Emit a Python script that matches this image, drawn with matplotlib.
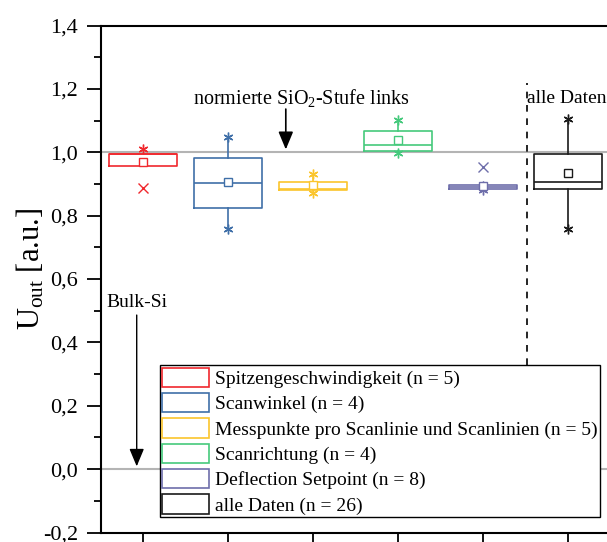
import numpy as np
import matplotlib
matplotlib.use('Agg')
import matplotlib.pyplot as plt
from matplotlib.patches import Patch
from matplotlib.ticker import MultipleLocator, FuncFormatter

plt.rcParams['font.family'] = ['Liberation Serif', 'DejaVu Serif']
plt.rcParams['mathtext.fontset'] = 'custom'
plt.rcParams['mathtext.rm'] = 'Liberation Serif'
plt.rcParams['mathtext.it'] = 'Liberation Serif:italic'

# Daten
labels = ['Spitzengeschwindigkeit (n = 5)', 'Scanwinkel (n = 4)',
          'Messpunkte pro Scanlinie und Scanlinien (n = 5)', 'Scanrichtung (n = 4)',
          'Deflection Setpoint (n = 8)', 'alle Daten (n = 26)']
colors = ['#f0282d', '#3f6fa8', '#fbc52c', '#45c97c', '#6e6eaa', '#1a1a1a']
q1 = [0.957, 0.824, 0.882, 1.005, 0.883, 0.885]
q3 = [0.994, 0.983, 0.907, 1.068, 0.897, 0.994]
med = [0.994, 0.904, 0.885, 1.024, 0.890, 0.905]
mean = [0.968, 0.905, 0.896, 1.038, 0.894, 0.934]
whislo = [0.957, 0.759, 0.870, 0.999, 0.880, 0.759]
whishi = [0.994, 1.048, 0.932, 1.103, 0.897, 1.104]
stars = [[1.009], [0.759, 1.048], [0.870, 0.932], [0.999, 1.103], [0.880, 0.893], [0.759, 1.104]]
crosses = [[0.886], [], [], [], [0.955], []]

W, H = 607, 542
fig = plt.figure(figsize=(W / 100, H / 100), dpi=100)
ax = fig.add_axes([100.5 / W, 9.5 / H, 510 / W, 507 / H])

ax.axhline(1.0, color='#b4b4b4', lw=1.5, zorder=0)
ax.axhline(0.0, color='#b4b4b4', lw=1.5, zorder=0)

pos = np.arange(1, len(labels) + 1)
for i, c in enumerate(colors):
    st = [dict(med=med[i], q1=q1[i], q3=q3[i], whislo=whislo[i], whishi=whishi[i],
               mean=mean[i], fliers=[])]
    ax.bxp(st, positions=[pos[i]], widths=0.8, showmeans=True, showcaps=False,
           boxprops=dict(color=c, lw=1.2), medianprops=dict(color=c, lw=1.2),
           whiskerprops=dict(color=c, lw=1.2),
           meanprops=dict(marker='s', markerfacecolor='white', markeredgecolor=c,
                          markersize=6, markeredgewidth=1.0))
    if stars[i]:
        ax.plot([pos[i]] * len(stars[i]), stars[i], ls='none', marker=(6, 2, 0),
                color=c, markersize=7, markeredgewidth=1.0)
    if crosses[i]:
        ax.plot([pos[i]] * len(crosses[i]), crosses[i], ls='none', marker='x',
                color=c, markersize=7, markeredgewidth=1.0)

# Trennlinie und Beschriftungen
ax.plot([5.518, 5.518], [0.328, 1.22], color='black', ls=(0, (4, 4)), lw=1.2)
ax.text(5.52, 1.17, 'alle Daten', fontsize=14, va='center', ha='left', clip_on=True)
ax.annotate('', xy=(2.68, 1.0), xytext=(2.68, 1.145),
            arrowprops=dict(arrowstyle='-|>,head_length=0.6,head_width=0.25',
                            color='black', lw=1.2, mutation_scale=18))
ax.text(2.86, 1.17, 'normierte SiO$_2$-Stufe links', fontsize=14.5, va='center', ha='center')
ax.annotate('', xy=(0.926, 0.0), xytext=(0.926, 0.495),
            arrowprops=dict(arrowstyle='-|>,head_length=0.6,head_width=0.25',
                            color='black', lw=1.0, mutation_scale=18))
ax.text(0.565, 0.527, 'Bulk-Si', fontsize=14, va='center', ha='left')

handles = [Patch(facecolor='none', edgecolor=c, lw=1.2) for c in colors]
leg = ax.legend(handles, labels, loc='upper left', bbox_to_anchor=(0.1167, 0.330),
                fontsize=14, frameon=True, fancybox=False, framealpha=1,
                edgecolor='black', borderaxespad=0, borderpad=0.12,
                handlelength=2.4, handleheight=1.15, labelspacing=0.26,
                handletextpad=0.3)
leg.get_frame().set_linewidth(1.0)

ax.set_xlim(0.5, 6.5)
ax.set_ylim(-0.2, 1.4)
ax.set_xticks(pos)
ax.set_xticklabels([])
ax.yaxis.set_major_locator(MultipleLocator(0.2))
ax.yaxis.set_minor_locator(MultipleLocator(0.1))
ax.yaxis.set_major_formatter(FuncFormatter(lambda v, p: f'{v:.1f}'.replace('.', ',')))
ax.tick_params(axis='y', which='major', length=10, width=1.3, labelsize=16,
               direction='out', pad=6)
ax.tick_params(axis='y', which='minor', length=5, width=1.3, direction='out')
ax.tick_params(axis='x', which='major', length=10, width=1.3, direction='out')
for s in ax.spines.values():
    s.set_linewidth(1.5)
ax.set_ylabel('U$_{\\mathrm{out}}$ [a.u.]', fontsize=22)
ax.yaxis.set_label_coords(-0.105, 0.52)

fig.savefig('out.png', dpi=100)
